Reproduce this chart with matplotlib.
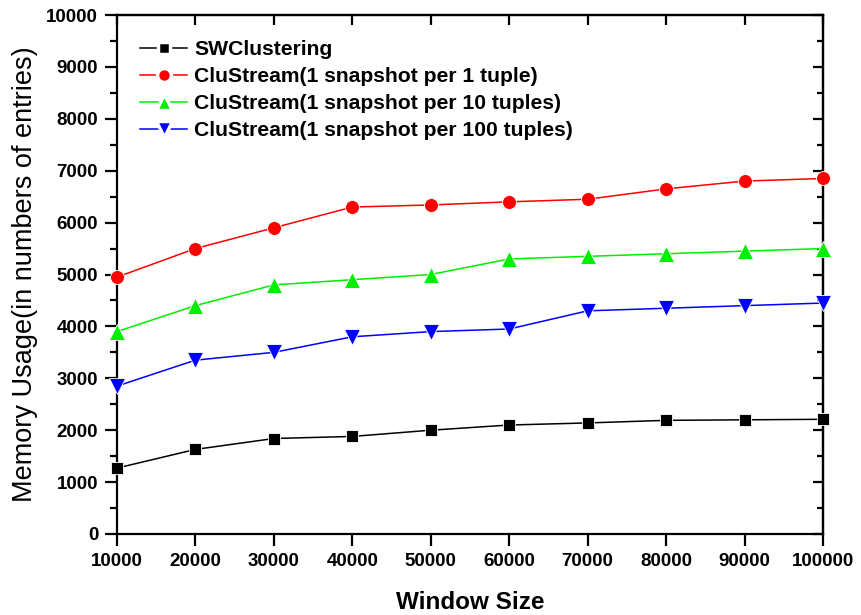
import matplotlib
matplotlib.use("Agg")
import matplotlib.pyplot as plt
from matplotlib.ticker import MultipleLocator

window_sizes = [10000, 20000, 30000, 40000, 50000, 60000, 70000, 80000, 90000, 100000]
swclustering = [1270, 1630, 1840, 1880, 2000, 2100, 2140, 2190, 2200, 2210]
clu_1 = [4950, 5500, 5900, 6300, 6340, 6400, 6450, 6650, 6800, 6850]
clu_10 = [3900, 4400, 4800, 4900, 5000, 5300, 5350, 5400, 5450, 5500]
clu_100 = [2850, 3350, 3500, 3800, 3900, 3950, 4300, 4350, 4400, 4450]

labels = ["SWClustering",
          "CluStream(1 snapshot per 1 tuple)",
          "CluStream(1 snapshot per 10 tuples)",
          "CluStream(1 snapshot per 100 tuples)"]

plt.rcParams['font.family'] = ['Liberation Sans', 'DejaVu Sans']

fig = plt.figure(figsize=(8.62, 6.15), dpi=100)
ax = fig.add_axes([117/862, 81/615, (823-117)/862, (534-15)/615])

common = dict(lw=1.1, markeredgecolor='white', markeredgewidth=0.6, clip_on=False, zorder=3)
ax.plot(window_sizes, swclustering, color='black', marker='s', markersize=8, label=labels[0], **common)
ax.plot(window_sizes, clu_1, color='red', marker='o', markersize=10, label=labels[1], **common)
ax.plot(window_sizes, clu_10, color='#00ee00', marker='^', markersize=11, label=labels[2], **common)
ax.plot(window_sizes, clu_100, color='blue', marker='v', markersize=11, label=labels[3], **common)

ax.set_xlim(10000, 100000)
ax.set_ylim(0, 10000)
ax.xaxis.set_major_locator(MultipleLocator(10000))
ax.yaxis.set_major_locator(MultipleLocator(1000))
ax.yaxis.set_minor_locator(MultipleLocator(500))

LW = 1.6
for s in ax.spines.values():
    s.set_linewidth(LW)

ax.tick_params(axis='both', which='major', direction='out', length=8.5, width=LW, labelsize=13.5)
ax.tick_params(axis='y', which='minor', direction='out', length=5, width=LW)
ax.tick_params(axis='x', which='major', pad=5)
ax.tick_params(axis='y', which='major', pad=5)
for lbl in ax.get_xticklabels() + ax.get_yticklabels():
    lbl.set_fontweight('bold')

# top and right inward ticks
ax2 = ax.secondary_xaxis('top')
ax2.xaxis.set_major_locator(MultipleLocator(10000))
ax2.tick_params(direction='in', length=7, width=LW, labeltop=False)
ax3 = ax.secondary_yaxis('right')
ax3.yaxis.set_major_locator(MultipleLocator(1000))
ax3.yaxis.set_minor_locator(MultipleLocator(500))
ax3.tick_params(which='major', direction='in', length=7, width=LW, labelright=False)
ax3.tick_params(which='minor', direction='in', length=4.5, width=LW)
for sa in (ax2, ax3):
    for s in sa.spines.values():
        s.set_linewidth(LW)

ax.set_xlabel("Window Size", fontsize=17.5, fontweight='bold', labelpad=15)
ax.set_ylabel("Memory Usage(in numbers of entries)", fontsize=19.5, labelpad=6)

leg = ax.legend(loc='upper left', bbox_to_anchor=(23/706, 1 - 25/519), frameon=False,
                prop={'weight': 'bold', 'size': 15.2}, handlelength=2.25,
                handletextpad=0.33, labelspacing=0.38, borderaxespad=0, borderpad=0)
for h in leg.legend_handles:
    h.set_markeredgewidth(2.5)

fig.savefig("out.png", dpi=100)
